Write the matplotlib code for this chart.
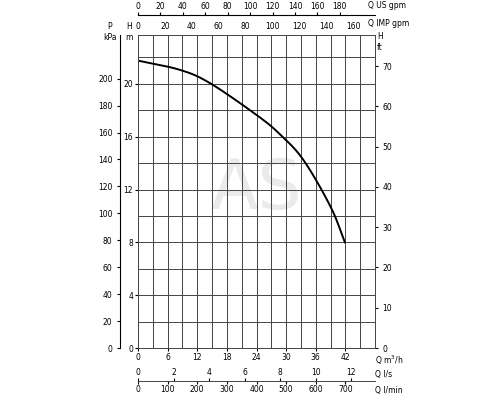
import matplotlib
matplotlib.use("Agg")
import matplotlib.pyplot as plt
import numpy as np

q_m3h = [0, 8.5, 14.6, 24.0, 28.7, 33.5, 39.0, 41.9]
h_m = [21.76, 21.06, 20.05, 17.65, 16.2, 14.24, 10.7, 8.0]

xt_m3h = [0, 6, 12, 18, 24, 30, 36, 42]
yt_m = [0, 4, 8, 12, 16, 20]
yt_kpa = [0, 20, 40, 60, 80, 100, 120, 140, 160, 180, 200]
yt_ft = [0, 10, 20, 30, 40, 50, 60, 70]
xt_us = [0, 20, 40, 60, 80, 100, 120, 140, 160, 180]
xt_imp = [0, 20, 40, 60, 80, 100, 120, 140, 160]
xt_ls = [0, 2, 4, 6, 8, 10, 12]
xt_lmin = [0, 100, 200, 300, 400, 500, 600, 700]

fs = 5.5
fig = plt.figure(figsize=(5, 4), dpi=100)
L, B, W, H = 0.276, 0.13, 0.474, 0.7825
ax = fig.add_axes([L, B, W, H])
XMAX, YMAX = 48, 23.7
ax.set_xlim(0, XMAX); ax.set_ylim(0, YMAX)
ax.set_xticks(xt_m3h)
ax.set_xticks(np.arange(0, 49, 3), minor=True)
ax.set_yticks(yt_m)
ax.set_yticks(np.arange(0, 24, 2), minor=True)
ax.grid(True, which='both', color='#444', lw=0.7)
ax.tick_params(labelsize=fs, length=2, which='both', pad=1.5)
ax.tick_params(which='minor', length=0)
for s in ax.spines.values():
    s.set_color('#444'); s.set_linewidth(0.7)
pts = np.column_stack([q_m3h, h_m])
P = np.vstack([2 * pts[0] - pts[1], pts, 2 * pts[-1] - pts[-2]])
curve = []
for i in range(1, len(P) - 2):
    p0, p1, p2, p3 = P[i-1], P[i], P[i+1], P[i+2]
    for t in np.linspace(0, 1, 20, endpoint=False):
        curve.append(0.5 * ((2*p1) + (-p0+p2)*t + (2*p0-5*p1+4*p2-p3)*t**2 + (-p0+3*p1-3*p2+p3)*t**3))
curve.append(pts[-1])
curve = np.array(curve)
ax.plot(curve[:, 0], curve[:, 1], color='black', lw=1.4)
ax.text(24, 12, "AS", fontsize=50, color='#ddd', alpha=0.6, ha='center', va='center', zorder=0)

kp = ax.secondary_yaxis(-0.075, functions=(lambda m: m * 9.80665, lambda k: k / 9.80665))
kp.set_yticks(yt_kpa)
kp.tick_params(labelsize=fs, length=2)
ft = ax.secondary_yaxis('right', functions=(lambda m: m * 3.28084, lambda f: f / 3.28084))
ft.set_yticks(yt_ft)
ft.tick_params(labelsize=fs, length=2)
ft.spines['right'].set_visible(False)

us = ax.secondary_xaxis(1.064, functions=(lambda q: q * 4.4029, lambda g: g / 4.4029))
us.set_xticks(xt_us); us.tick_params(labelsize=fs, length=2, pad=1)
imp = ax.secondary_xaxis('top', functions=(lambda q: q * 3.6662, lambda g: g / 3.6662))
imp.set_xticks(xt_imp); imp.tick_params(labelsize=fs, length=0, pad=3)
imp.spines['top'].set_visible(False)

yb = B - 33 / 400
ls = fig.add_axes([L, yb, W, 0.0001])
ls.set_xlim(0, XMAX / 3.6)
ls.set_xticks(xt_ls)
ls.tick_params(labelsize=fs, length=2, bottom=False, top=True, labelbottom=False, labeltop=True, pad=1)
ls.set_yticks([])
for k in ['left', 'right', 'top', 'bottom']:
    ls.spines[k].set_visible(False)
lm = fig.add_axes([L, yb, W, 0.0001])
lm.set_xlim(0, XMAX * 1000 / 60)
lm.set_xticks(xt_lmin)
lm.tick_params(labelsize=fs, length=2, pad=1)
lm.set_yticks([])
for k in ['left', 'right', 'top']:
    lm.spines[k].set_visible(False)
lm.spines['bottom'].set_color('#444'); lm.spines['bottom'].set_linewidth(0.7)

fig.text(375/500, 1 - 360/400, "Q m$^3$/h", fontsize=fs, va='center')
fig.text(375/500, 1 - 374/400, "Q l/s", fontsize=fs, va='center')
fig.text(375/500, 1 - 390/400, "Q l/min", fontsize=fs, va='center')
fig.text(368/500, 1 - 6/400, "Q US gpm", fontsize=fs, va='center')
fig.text(368/500, 1 - 23/400, "Q IMP gpm", fontsize=fs, va='center')
fig.text(110/500, 1 - 32/400, "P\nkPa", fontsize=fs, va='center', ha='center')
fig.text(129/500, 1 - 32/400, "H\nm", fontsize=fs, va='center', ha='center')
fig.text(380/500, 1 - 42/400, "H\nft", fontsize=fs, va='center', ha='center')

fig.savefig("out.png", dpi=100)
